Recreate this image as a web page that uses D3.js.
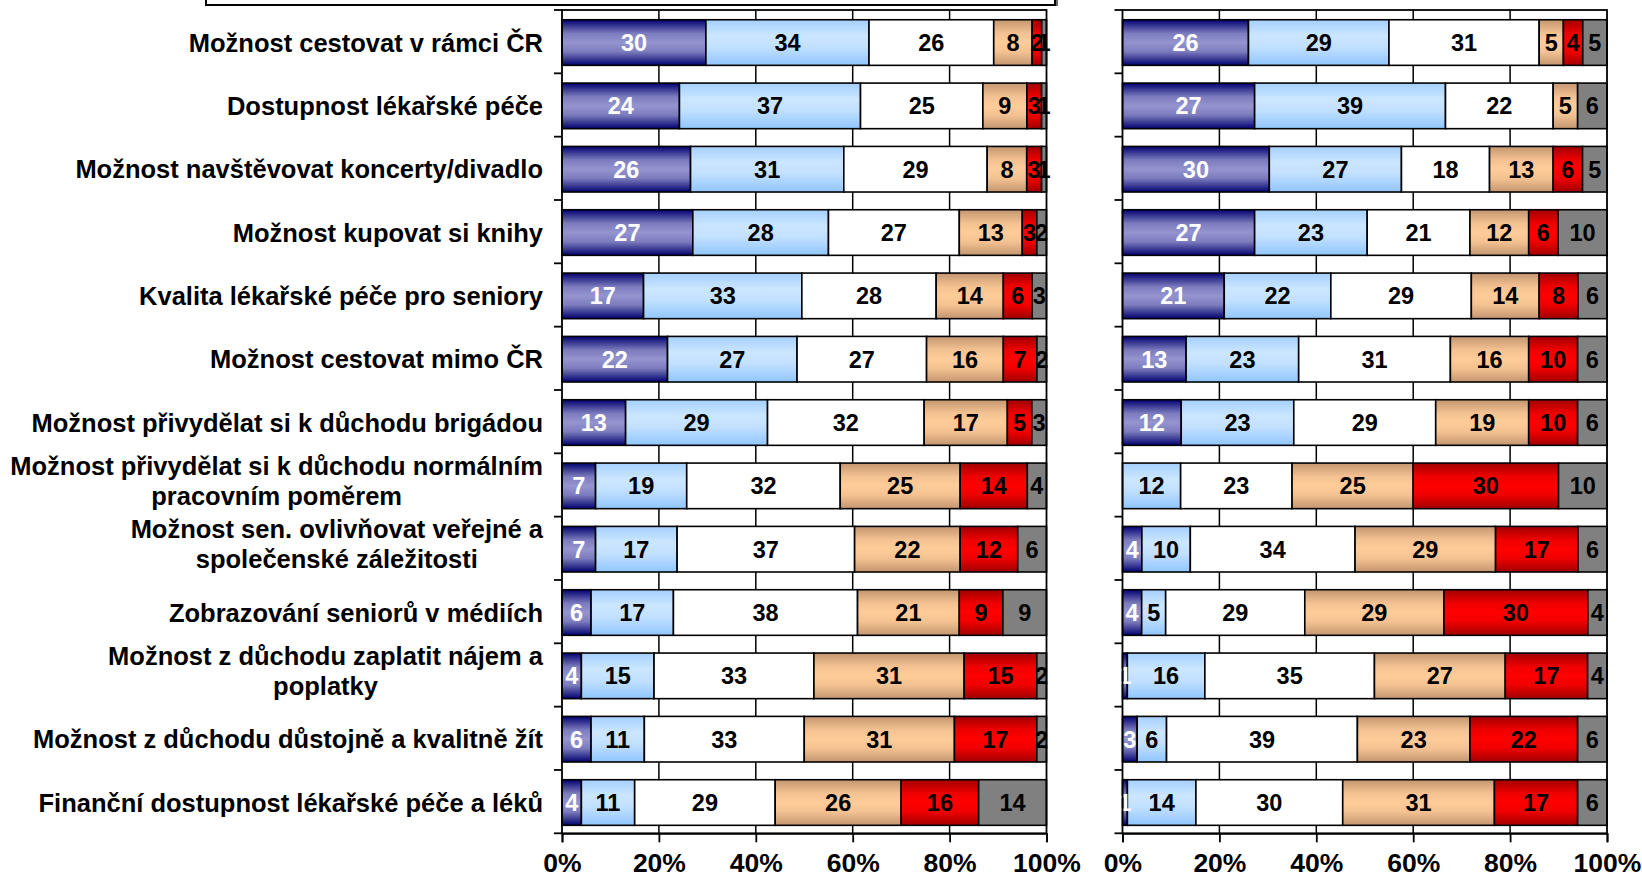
<!DOCTYPE html>
<html>
<head>
<meta charset="utf-8">
<script src="https://cdn.jsdelivr.net/npm/d3@7/dist/d3.min.js"></script>
<style>
  html, body { margin: 0; padding: 0; background: #fff; }
  svg { display: block; }
  text { font-family: "Liberation Sans", Arial, Helvetica, sans-serif; font-weight: bold; }
</style>
</head>
<body>
<svg id="chart" width="1642" height="880"></svg>
<script>
// ---------- DATA ----------
const categories = [
  "Možnost cestovat v rámci ČR",
  "Dostupnost lékařské péče",
  "Možnost navštěvovat koncerty/divadlo",
  "Možnost kupovat si knihy",
  "Kvalita lékařské péče pro seniory",
  "Možnost cestovat mimo ČR",
  "Možnost přivydělat si k důchodu brigádou",
  "Možnost přivydělat si k důchodu normálním\npracovním poměrem",
  "Možnost sen. ovlivňovat veřejné a\nspolečenské záležitosti",
  "Zobrazování seniorů v médiích",
  "Možnost z důchodu zaplatit nájem a\npoplatky",
  "Možnost z důchodu důstojně a kvalitně žít",
  "Finanční dostupnost lékařské péče a léků"
];
const seriesKeys = ["s1", "s2", "s3", "s4", "s5", "s6"];

// left panel
const leftS1 = [30, 24, 26, 27, 17, 22, 13, 7, 7, 6, 4, 6, 4];
const leftS2 = [34, 37, 31, 28, 33, 27, 29, 19, 17, 17, 15, 11, 11];
const leftS3 = [26, 25, 29, 27, 28, 27, 32, 32, 37, 38, 33, 33, 29];
const leftS4 = [8, 9, 8, 13, 14, 16, 17, 25, 22, 21, 31, 31, 26];
const leftS5 = [2, 3, 3, 3, 6, 7, 5, 14, 12, 9, 15, 17, 16];
const leftS6 = [1, 1, 1, 2, 3, 2, 3, 4, 6, 9, 2, 2, 14];

// right panel
const rightS1 = [26, 27, 30, 27, 21, 13, 12, 0, 4, 4, 1, 3, 1];
const rightS2 = [29, 39, 27, 23, 22, 23, 23, 12, 10, 5, 16, 6, 14];
const rightS3 = [31, 22, 18, 21, 29, 31, 29, 23, 34, 29, 35, 39, 30];
const rightS4 = [5, 5, 13, 12, 14, 16, 19, 25, 29, 29, 27, 23, 31];
const rightS5 = [4, 0, 6, 6, 8, 10, 10, 30, 17, 30, 17, 22, 17];
const rightS6 = [5, 6, 5, 10, 6, 6, 6, 10, 6, 4, 4, 6, 6];

const xTicks = [0, 0.2, 0.4, 0.6, 0.8, 1];

// ---------- BUILD ----------
function buildRows(arrs) {
  return categories.map((c, i) => {
    const r = { cat: c };
    seriesKeys.forEach((k, j) => r[k] = arrs[j][i]);
    return r;
  });
}
const leftRows = buildRows([leftS1, leftS2, leftS3, leftS4, leftS5, leftS6]);
const rightRows = buildRows([rightS1, rightS2, rightS3, rightS4, rightS5, rightS6]);

const svg = d3.select("#chart");
const defs = svg.append("defs");

function grad(id, stops) {
  const g = defs.append("linearGradient").attr("id", id)
    .attr("x1", 0).attr("y1", 0).attr("x2", 0).attr("y2", 1);
  stops.forEach(s => g.append("stop").attr("offset", s[0]).attr("stop-color", s[1]));
}
grad("g1", [[0, "#000070"], [0.12, "#33338f"], [0.3, "#7c7cbe"], [0.5, "#9494d0"], [0.7, "#7c7cbe"], [0.88, "#33338f"], [1, "#000070"]]);
grad("g2", [[0, "#a4d0ff"], [0.35, "#cce6ff"], [0.6, "#c2e0ff"], [1, "#90c6ff"]]);
grad("g4", [[0, "#c49670"], [0.3, "#f4c292"], [0.5, "#ffcc99"], [0.7, "#f4c292"], [1, "#c49670"]]);
grad("g5", [[0, "#a00000"], [0.3, "#f00000"], [0.5, "#ff0000"], [0.7, "#f00000"], [1, "#a00000"]]);

const fills = { s1: "url(#g1)", s2: "url(#g2)", s3: "#ffffff", s4: "url(#g4)", s5: "url(#g5)", s6: "#808080" };
const labelColors = { s1: "#ffffff", s2: "#000", s3: "#000", s4: "#000", s5: "#000", s6: "#000" };

const plotTop = 10, plotBottom = 833.3;
const y = d3.scaleBand().domain(categories).range([plotTop, plotBottom])
  .paddingInner(0.28).paddingOuter(0.14).align(0.55);
const yEdge = d3.scaleLinear().domain([0, categories.length]).range([plotTop, plotBottom]);

const stack = d3.stack().keys(seriesKeys).offset(d3.stackOffsetExpand);

// legend box (cut off at the top)
svg.append("rect").attr("x", 209).attr("y", -40).attr("width", 849).attr("height", 46).attr("fill", "#6a6a6a");
svg.append("rect").attr("x", 206).attr("y", -40).attr("width", 849).attr("height", 45)
  .attr("fill", "#fff").attr("stroke", "#000").attr("stroke-width", 2);

function drawPanel(rows, x0, x1, showLabels) {
  const x = d3.scaleLinear().domain([0, 1]).range([x0, x1]);
  const g = svg.append("g");

  // gridlines
  g.selectAll(".grid").data(xTicks.slice(1, -1)).join("line")
    .attr("x1", d => x(d)).attr("x2", d => x(d))
    .attr("y1", plotTop).attr("y2", plotBottom)
    .attr("stroke", "#000").attr("stroke-width", 1.5);

  const series = stack(rows);
  const sg = g.selectAll(".series").data(series).join("g");
  sg.selectAll("rect").data(s => s.map(d => ({ key: s.key, d })))
    .join("rect")
    .attr("x", o => x(o.d[0]))
    .attr("width", o => Math.max(0, x(o.d[1]) - x(o.d[0])))
    .attr("y", o => y(o.d.data.cat))
    .attr("height", y.bandwidth())
    .attr("fill", o => fills[o.key])
    .attr("stroke", "#000").attr("stroke-width", 1.6)
    .attr("display", o => o.d.data[o.key] > 0 ? null : "none");

  // data labels
  const lg = g.append("g");
  series.forEach(s => {
    s.forEach(d => {
      const v = d.data[s.key];
      if (!v) return;
      lg.append("text")
        .attr("x", (x(d[0]) + x(d[1])) / 2)
        .attr("y", y(d.data.cat) + y.bandwidth() / 2)
        .attr("dy", "0.36em")
        .attr("text-anchor", "middle")
        .attr("font-size", 23.5)
        .attr("fill", labelColors[s.key])
        .text(v);
    });
  });

  // plot border
  g.append("rect").attr("x", x0).attr("y", plotTop)
    .attr("width", x1 - x0).attr("height", plotBottom - plotTop)
    .attr("fill", "none").attr("stroke", "#000").attr("stroke-width", 1.8);

  // category ticks (left)
  g.selectAll(".ytick").data(d3.range(categories.length + 1)).join("line")
    .attr("x1", x0 - 8).attr("x2", x0)
    .attr("y1", d => yEdge(d)).attr("y2", d => yEdge(d))
    .attr("stroke", "#000").attr("stroke-width", 1.8);

  // x axis
  const ax = g.append("g").attr("transform", `translate(0,${plotBottom})`)
    .call(d3.axisBottom(x).tickValues(xTicks).tickFormat(d3.format(".0%")).tickSize(9).tickPadding(11));
  ax.select(".domain").attr("stroke", "#000").attr("stroke-width", 1.8);
  ax.selectAll(".tick line").attr("stroke", "#000").attr("stroke-width", 1.8);
  ax.selectAll(".tick text").attr("font-size", 26.5).attr("font-weight", "bold")
    .attr("font-family", "'Liberation Sans', Arial, sans-serif").attr("fill", "#000");

  if (showLabels) {
    const labelRight = x0 - 19;
    const cg = g.append("g");
    categories.forEach(c => {
      const lines = c.split("\n");
      const lh = 30;
      const cy = y(c) + y.bandwidth() / 2 - (lines.length > 1 ? 5 : 0);
      const t = cg.append("text").attr("font-size", 25.5).attr("fill", "#000");
      lines.forEach((ln, i) => {
        t.append("tspan").attr("y", cy + (i - (lines.length - 1) / 2) * lh).attr("dy", "0.36em").text(ln);
      });
      if (lines.length === 1) {
        t.attr("text-anchor", "end");
        t.selectAll("tspan").attr("x", labelRight);
      } else {
        const widths = [];
        t.selectAll("tspan").each(function () { widths.push(this.getComputedTextLength()); });
        const mw = d3.max(widths);
        t.attr("text-anchor", "middle");
        t.selectAll("tspan").attr("x", labelRight - mw / 2);
      }
    });
  }
}

drawPanel(leftRows, 562, 1046.5, true);
drawPanel(rightRows, 1122.5, 1607, false);
</script>
</body>
</html>
